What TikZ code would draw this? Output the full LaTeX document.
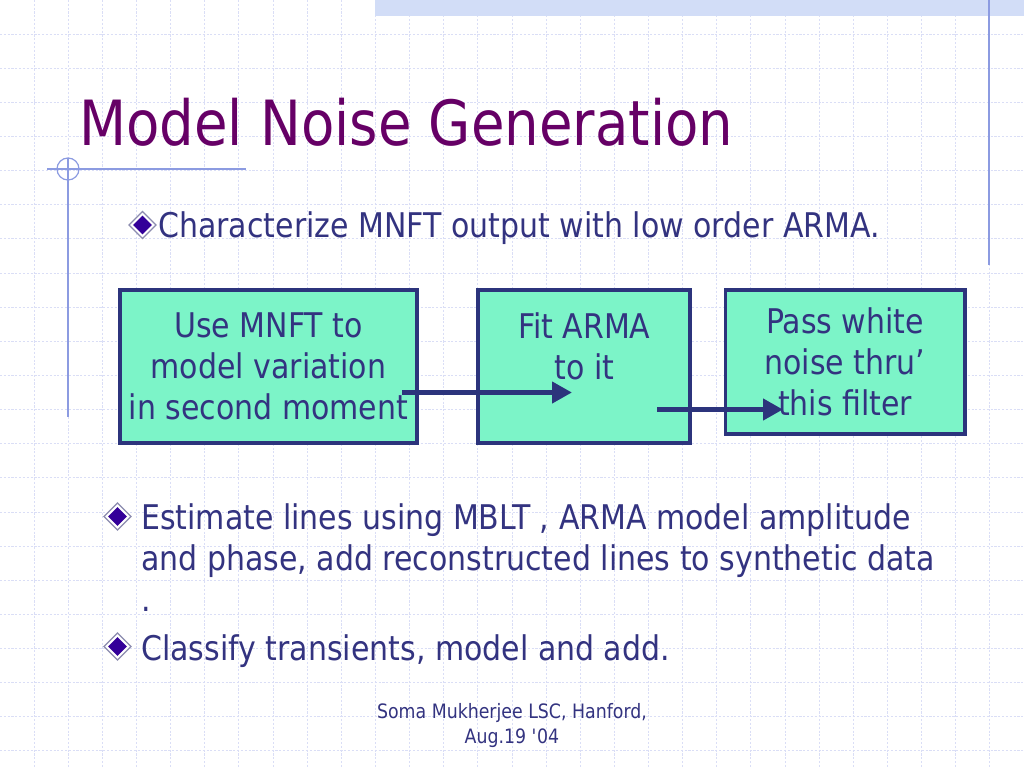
\documentclass[tikz,border=0pt]{standalone}
\usepackage{fontspec}
\setmainfont{DejaVu Sans}[FakeStretch=0.875]
\newfontfamily\bodyfont{DejaVu Sans}[FakeStretch=0.882]
\usetikzlibrary{arrows.meta}
\definecolor{titlepurple}{RGB}{102,0,102}
\definecolor{navytext}{RGB}{51,51,128}
\definecolor{boxborder}{RGB}{44,52,124}
\definecolor{boxfill}{RGB}{124,244,200}
\definecolor{gridc}{RGB}{218,222,246}
\definecolor{decor}{RGB}{140,155,225}
\definecolor{bandc}{RGB}{210,221,247}
\definecolor{bulletin}{RGB}{51,0,153}
\definecolor{bulletedge}{RGB}{140,140,175}
\begin{document}
\begin{tikzpicture}[x=0.0248046875cm, y=-0.0248046875cm,
  gridline/.style={draw=gridc, line width=0.7pt, dash pattern=on 1.5pt off 1.2pt},
  decorline/.style={draw=decor, line width=0.85pt},
  titletext/.style={inner sep=0pt, anchor=base west, text=titlepurple, font=\fontsize{44}{52}\selectfont},
  bodytext/.style={inner sep=0pt, anchor=base west, text=navytext, font=\bodyfont\fontsize{24}{28.8}\selectfont},
  foottext/.style={inner sep=0pt, anchor=base, text=navytext, font=\fontsize{14}{17}\selectfont},
  stepbox/.style={rectangle, draw=boxborder, fill=boxfill, line width=2.8pt, inner sep=0pt, align=center, text=navytext, font=\bodyfont\fontsize{24}{28.8}\selectfont},
  bulletout/.style={rectangle, rotate=45, inner sep=0pt, minimum size=13.5pt, fill=white, draw=bulletedge, line width=0.9pt},
  bulletinner/.style={rectangle, rotate=45, inner sep=0pt, minimum size=9.3pt, fill=bulletin},
  flowarrow/.style={draw=boxborder, line width=3.5pt, -{Triangle[length=14pt,width=14.5pt]}}
]
\useasboundingbox (0,0) rectangle (1024,768);
\fill[white] (0,0) rectangle (1024,768);
% grid
\foreach \i in {1,...,29} \draw[gridline] (\i*34.1333,0) -- (\i*34.1333,768);
\foreach \j in {1,...,22} \draw[gridline] (0,\j*34.1333) -- (1024,\j*34.1333);
% top band
\fill[bandc] (375,0) rectangle (1024,16);
% decorative lines
\draw[decorline] (989,0) -- (989,265);
\draw[decorline] (47,169) -- (246,169);
\draw[decorline] (68,158) -- (68,417);
\draw[decorline] (68,169) circle[radius=11];
% title
\node[titletext] (title) at (79,145) {Model Noise Generation};
% first bullet
\node[bulletout] (d1) at (142.5,225) {};
\node[bulletinner] (d1i) at (142.5,225) {};
\node[bodytext] (l1) at (158,237) {Characterize MNFT output with low order ARMA.};
% boxes
\node[stepbox, minimum width=210.23pt, minimum height=107.58pt] (b1) at (268.5,366.5) {Use MNFT to\\model variation\\in second moment};
\node[stepbox, minimum width=149.41pt, minimum height=107.58pt] (b2) at (584.25,366.5) {Fit ARMA\\to it\\\mbox{}};
\node[stepbox, minimum width=168.75pt, minimum height=101.25pt] (b3) at (845,362) {Pass white\\noise thru’\\this filter};
% arrows
\coordinate (a1s) at (402,392.5);
\coordinate (a1e) at (572,392.5);
\coordinate (a2s) at (657,409.5);
\coordinate (a2e) at (783,409.5);
\draw[flowarrow] (a1s) -- (a1e);
\draw[flowarrow] (a2s) -- (a2e);
% lower bullets
\node[bulletout] (d2) at (117.5,516.5) {};
\node[bulletinner] (d2i) at (117.5,516.5) {};
\node[bodytext] (l2a) at (141,529) {Estimate lines using MBLT , ARMA model amplitude};
\node[bodytext] (l2b) at (141,570) {and phase, add reconstructed lines to synthetic data};
\node[bodytext] (l2c) at (141,611) {.};
\node[bulletout] (d3) at (117.5,646.5) {};
\node[bulletinner] (d3i) at (117.5,646.5) {};
\node[bodytext] (l3) at (141,660) {Classify transients, model and add.};
% footer
\node[foottext] (f1) at (512,718) {Soma Mukherjee LSC, Hanford,};
\node[foottext] (f2) at (512,743) {Aug.19 \textquotesingle04};
\end{tikzpicture}
\end{document}
